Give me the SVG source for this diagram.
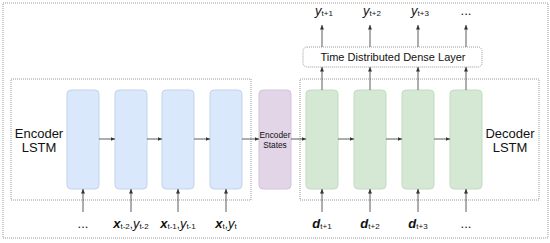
<svg xmlns="http://www.w3.org/2000/svg" width="550" height="243" viewBox="0 0 550 243">
<style>
text{font-family:"Liberation Sans",Arial,sans-serif;fill:#111}
.frame{fill:none;stroke:#9a9a9a;stroke-width:1;stroke-dasharray:1 1}
.enc{fill:#dae8fc;stroke:#c3d3ea;stroke-width:1}
.dec{fill:#d5e8d4;stroke:#c0dcbe;stroke-width:1}
.st{fill:#e1d5e7;stroke:#d2c2dc;stroke-width:1}
.ar{stroke:#333;stroke-width:0.8;fill:none;marker-end:url(#ah)}
.big{font-size:13px}
.lab{font-size:13px;font-weight:bold;font-style:italic}
.yl{font-size:13px;font-style:italic}
.sub{font-size:8px;font-style:normal;font-weight:normal}
</style>
<defs>
<marker id="ah" markerWidth="5" markerHeight="4" refX="4.5" refY="2" orient="auto" markerUnits="userSpaceOnUse">
<path d="M0,0 L4.5,2 L0,4 Z" fill="#333"/>
</marker>
</defs>
<rect class="frame" x="3" y="3" width="545" height="235"/>
<g id="encoder-frame">
<rect class="frame" x="11" y="79" width="240" height="121"/>
<text class="big" x="39" y="138" text-anchor="middle">Encoder</text>
<text class="big" x="39" y="152" text-anchor="middle">LSTM</text>
</g>
<g id="decoder-frame">
<rect class="frame" x="300" y="79" width="239" height="121"/>
<text class="big" x="510" y="138" text-anchor="middle">Decoder</text>
<text class="big" x="510" y="152" text-anchor="middle">LSTM</text>
</g>
<g id="enc1"><rect class="enc" x="67" y="90" width="32" height="99" rx="4"/></g>
<g id="enc2"><rect class="enc" x="115" y="90" width="32" height="99" rx="4"/></g>
<g id="enc3"><rect class="enc" x="162" y="90" width="32" height="99" rx="4"/></g>
<g id="enc4"><rect class="enc" x="210" y="90" width="32" height="99" rx="4"/></g>
<g id="states"><rect class="st" x="259" y="90" width="32" height="99" rx="4"/>
<text x="275" y="138" font-size="8.3" text-anchor="middle">Encoder</text>
<text x="275" y="147.5" font-size="8.3" text-anchor="middle">States</text></g>
<g id="dec1"><rect class="dec" x="306" y="90" width="32" height="99" rx="4"/></g>
<g id="dec2"><rect class="dec" x="354" y="90" width="32" height="99" rx="4"/></g>
<g id="dec3"><rect class="dec" x="402" y="90" width="32" height="99" rx="4"/></g>
<g id="dec4"><rect class="dec" x="450" y="90" width="32" height="99" rx="4"/></g>
<g id="dense">
<rect class="frame" x="303" y="47" width="179" height="20" rx="4"/>
<text x="393" y="61" font-size="11" text-anchor="middle">Time Distributed Dense Layer</text>
</g>
<g id="connectors">
<line class="ar" x1="99" y1="139" x2="115" y2="139"/>
<line class="ar" x1="147" y1="139" x2="162" y2="139"/>
<line class="ar" x1="194" y1="139" x2="210" y2="139"/>
<line class="ar" x1="242" y1="139" x2="259" y2="139"/>
<line class="ar" x1="291" y1="139" x2="306" y2="139"/>
<line class="ar" x1="338" y1="139" x2="354" y2="139"/>
<line class="ar" x1="386" y1="139" x2="402" y2="139"/>
<line class="ar" x1="434" y1="139" x2="450" y2="139"/>
<line class="ar" x1="83" y1="212" x2="83" y2="189"/>
<line class="ar" x1="131" y1="212" x2="131" y2="189"/>
<line class="ar" x1="178" y1="212" x2="178" y2="189"/>
<line class="ar" x1="226" y1="212" x2="226" y2="189"/>
<line class="ar" x1="322" y1="212" x2="322" y2="189"/>
<line class="ar" x1="370" y1="212" x2="370" y2="189"/>
<line class="ar" x1="418" y1="212" x2="418" y2="189"/>
<line class="ar" x1="466" y1="212" x2="466" y2="189"/>
<line class="ar" x1="322" y1="90" x2="322" y2="67"/>
<line class="ar" x1="370" y1="90" x2="370" y2="67"/>
<line class="ar" x1="418" y1="90" x2="418" y2="67"/>
<line class="ar" x1="466" y1="90" x2="466" y2="67"/>
<line class="ar" x1="322" y1="47" x2="322" y2="25"/>
<line class="ar" x1="370" y1="47" x2="370" y2="25"/>
<line class="ar" x1="418" y1="47" x2="418" y2="25"/>
<line class="ar" x1="466" y1="47" x2="466" y2="25"/>
</g>
<g id="labels">
<text x="83" y="228" font-size="13" text-anchor="middle">...</text>
<text x="131" y="228" text-anchor="middle"><tspan class="lab">x</tspan><tspan class="sub" dy="1">t-2</tspan><tspan font-size="11" dy="-1">,</tspan><tspan class="yl">y</tspan><tspan class="sub" dy="1">t-2</tspan></text>
<text x="178" y="228" text-anchor="middle"><tspan class="lab">x</tspan><tspan class="sub" dy="1">t-1</tspan><tspan font-size="11" dy="-1">,</tspan><tspan class="yl">y</tspan><tspan class="sub" dy="1">t-1</tspan></text>
<text x="226" y="228" text-anchor="middle"><tspan class="lab">x</tspan><tspan class="sub" dy="1">t</tspan><tspan font-size="11" dy="-1">,</tspan><tspan class="yl">y</tspan><tspan class="sub" dy="1">t</tspan></text>
<text x="322" y="228" text-anchor="middle"><tspan class="lab">d</tspan><tspan class="sub" dy="1">t+1</tspan></text>
<text x="370" y="228" text-anchor="middle"><tspan class="lab">d</tspan><tspan class="sub" dy="1">t+2</tspan></text>
<text x="418" y="228" text-anchor="middle"><tspan class="lab">d</tspan><tspan class="sub" dy="1">t+3</tspan></text>
<text x="466" y="228" font-size="13" text-anchor="middle">...</text>
<text x="324" y="15" text-anchor="middle"><tspan class="yl">y</tspan><tspan class="sub" dy="1">t+1</tspan></text>
<text x="372" y="15" text-anchor="middle"><tspan class="yl">y</tspan><tspan class="sub" dy="1">t+2</tspan></text>
<text x="420" y="15" text-anchor="middle"><tspan class="yl">y</tspan><tspan class="sub" dy="1">t+3</tspan></text>
<text x="466" y="15" font-size="13" text-anchor="middle">...</text>
</g>
</svg>
